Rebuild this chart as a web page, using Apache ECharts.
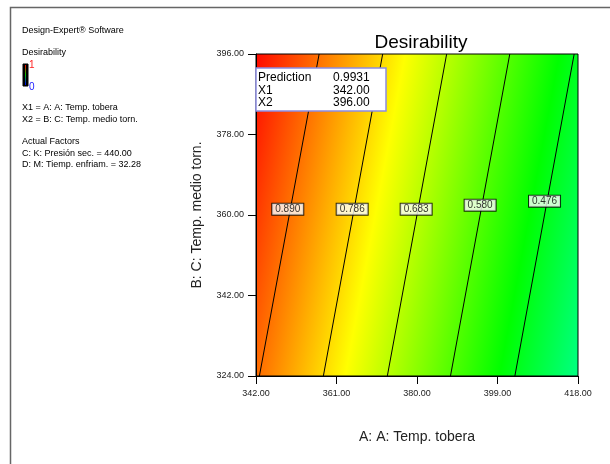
<!DOCTYPE html>
<html>
<head>
<meta charset="utf-8">
<script src="https://cdn.jsdelivr.net/npm/echarts@6/dist/echarts.min.js"></script>
<style>
  html, body { margin: 0; padding: 0; background: #fff; }
  #chart { width: 610px; height: 464px; }
</style>
</head>
<body>
<div id="chart"></div>
<script>
// contour levels and where each line crosses the top (y=396) and bottom (y=324) edges
var levels = [0.890, 0.786, 0.683, 0.580, 0.476];
var lineTopX = [356.9, 371.9, 387.0, 401.9, 417.1];
var lineBottomX = [342.8, 357.9, 373.0, 387.9, 403.1];
// where the level boxes sit
var labelX = [349.5, 364.7, 379.8, 394.9, 410.1];
var labelY = [361.3, 361.3, 361.3, 362.2, 363.1];

var xTicks = [342, 361, 380, 399, 418];
var yTicks = [324, 342, 360, 378, 396];

var prediction = { value: 0.9931, x1: 342.00, x2: 396.00 };

var font = 'Liberation Sans, Arial, sans-serif';
var chart = echarts.init(document.getElementById('chart'));

var series = [];
levels.forEach(function (lv, i) {
  series.push({
    type: 'line',
    data: [[lineTopX[i], yTicks[4]], [lineBottomX[i], yTicks[0]]],
    symbol: 'none',
    lineStyle: { color: '#000', width: 1 },
    silent: true,
    z: 3
  });
});
series.push({
  type: 'scatter',
  data: labelX.map(function (x, i) { return [x, labelY[i], levels[i]]; }),
  symbolSize: 0,
  z: 10,
  label: {
    show: true,
    position: 'inside',
    formatter: function (p) { return p.value[2].toFixed(3); },
    fontFamily: font,
    fontSize: 10,
    color: '#000',
    backgroundColor: '#fff',
    borderColor: '#000',
    borderWidth: 1,
    padding: [1, 3, 0, 3]
  }
});

var leftText = [
  ['Design-Expert® Software', 31],
  ['Desirability', 53],
  ['X1 = A: A: Temp. tobera', 108],
  ['X2 = B: C: Temp. medio torn.', 120],
  ['Actual Factors', 142],
  ['C: K: Presión sec. = 440.00', 153.5],
  ['D: M: Tiemp. enfriam. = 32.28', 165]
];

var graphics = [
  { type: 'rect', shape: { x: 10.5, y: 7.5, width: 640, height: 520 },
    style: { fill: 'none', stroke: '#666', lineWidth: 1.5 }, z: -10 },
  { type: 'rect', shape: { x: 23, y: 64, width: 5, height: 22 },
    style: { fill: '#000', stroke: '#000', lineWidth: 1 } },
  { type: 'rect', shape: { x: 25, y: 65, width: 1, height: 20 },
    style: { fill: new echarts.graphic.LinearGradient(0, 0, 0, 1, [
      { offset: 0, color: '#ff0000' }, { offset: 0.5, color: '#00cc00' }, { offset: 1, color: '#0000ff' }]) } },
  { type: 'text', style: { text: '1', x: 29, y: 65, font: '10px ' + font, fill: '#ff2020', verticalAlign: 'middle' } },
  { type: 'text', style: { text: '0', x: 29, y: 87, font: '10px ' + font, fill: '#2020ff', verticalAlign: 'middle' } },
  { type: 'rect', shape: { x: 256, y: 68, width: 130, height: 43 },
    style: { fill: '#fff', stroke: '#8c8ce0', lineWidth: 1.5 }, z: 100 }
];
leftText.forEach(function (t) {
  graphics.push({ type: 'text', style: { text: t[0], x: 22, y: t[1], font: '9px ' + font, fill: '#000', verticalAlign: 'middle' } });
});
[['Prediction', prediction.value.toFixed(4), 77.5],
 ['X1', prediction.x1.toFixed(2), 90.5],
 ['X2', prediction.x2.toFixed(2), 103]].forEach(function (r) {
  graphics.push({ type: 'text', z: 101, style: { text: r[0], x: 258, y: r[2], font: '12px ' + font, fill: '#000', verticalAlign: 'middle' } });
  graphics.push({ type: 'text', z: 101, style: { text: r[1], x: 333, y: r[2], font: '12px ' + font, fill: '#000', verticalAlign: 'middle' } });
});

var option = {
  animation: false,
  title: {
    text: 'Desirability',
    left: 416,
    textAlign: 'center',
    top: 28,
    textStyle: { fontFamily: font, fontSize: 19, fontWeight: 'normal', color: '#000' }
  },
  grid: {
    left: 256, right: 32, top: 54, bottom: 88,
    show: true,
    borderColor: '#000',
    borderWidth: 1,
    backgroundColor: new echarts.graphic.LinearGradient(0, 0, 1.147, 0.214, [
      { offset: 0, color: '#ff0700' },
      { offset: 0.391, color: '#ffff00' },
      { offset: 0.793, color: '#00ff00' },
      { offset: 1, color: '#00ff83' }
    ])
  },
  xAxis: {
    type: 'value',
    min: xTicks[0], max: xTicks[4], interval: 19,
    name: 'A: A: Temp. tobera',
    nameLocation: 'middle',
    nameGap: 54,
    nameTextStyle: { fontFamily: font, fontSize: 14, color: '#222' },
    axisLine: { show: true, lineStyle: { color: '#000' } },
    axisTick: { show: true, inside: false, length: 8, lineStyle: { color: '#000' } },
    axisLabel: { fontFamily: font, fontSize: 9, color: '#222', margin: 13,
      formatter: function (v) { return v.toFixed(2); } },
    splitLine: { show: false }
  },
  yAxis: {
    type: 'value',
    min: yTicks[0], max: yTicks[4], interval: 18,
    name: 'B: C: Temp. medio torn.',
    nameLocation: 'middle',
    nameGap: 52,
    nameTextStyle: { fontFamily: font, fontSize: 14, color: '#222' },
    axisLine: { show: true, lineStyle: { color: '#000' } },
    axisTick: { show: true, inside: false, length: 8, lineStyle: { color: '#000' } },
    axisLabel: { fontFamily: font, fontSize: 9, color: '#222', margin: 12,
      formatter: function (v) { return v.toFixed(2); } },
    splitLine: { show: false }
  },
  graphic: graphics,
  series: series
};
chart.setOption(option);
</script>
</body>
</html>
